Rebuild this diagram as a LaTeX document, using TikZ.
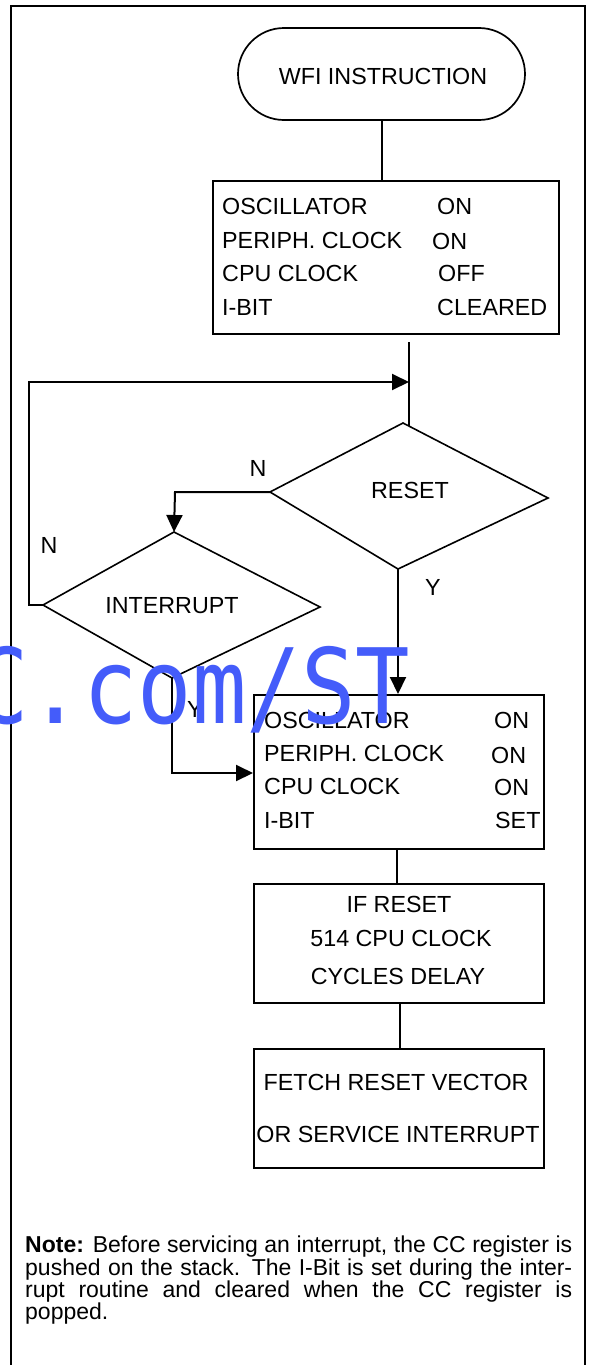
\documentclass[tikz,border=0pt]{standalone}
\usepackage{fontspec}
\setmainfont{Liberation Sans}
\newfontfamily\wmfont[FakeStretch=0.87]{DejaVu Sans Mono}
\usetikzlibrary{shapes.misc, arrows.meta}
\definecolor{wmblue}{RGB}{68,92,250}
\begin{document}
\begin{tikzpicture}[x=1pt, y=-1pt,
  box/.style={draw, line width=2pt, inner sep=0pt, anchor=north west},
  lbl/.style={anchor=base west, inner sep=0pt, font=\fontsize{23.3}{27}\selectfont},
  ctr/.style={anchor=base, inner sep=0pt, font=\fontsize{23.3}{27}\selectfont},
  notetxt/.style={anchor=base west, inner sep=0pt, font=\fontsize{23}{26}\selectfont},
  conn/.style={line width=2pt},
  arr/.style={conn, -{Triangle[length=17pt, width=16pt]}},
  dia/.style={line width=1.6pt, line join=miter},
  ]
\useasboundingbox (0,0) rectangle (590,1365);
\fill[white] (0,0) rectangle (590,1365);
% outer frame
\draw[line width=2.4pt] (11,1370) -- (11,6) -- (585,6) -- (585,1370);

% start terminal
\node[draw, rounded rectangle, line width=1.7pt, minimum width=287pt, minimum height=92pt, inner sep=0pt] (wfi) at (381.5,74) {};
\node[ctr] (wfit) at (383,84) {WFI INSTRUCTION};

% box 1
\node[box, minimum width=346pt, minimum height=153pt] (b1) at (212,180) {};
\node[lbl] (b1a) at (222,214) {OSCILLATOR};
\node[lbl] (b1b) at (222,248) {PERIPH. CLOCK};
\node[lbl] (b1c) at (222,281) {CPU CLOCK};
\node[lbl] (b1d) at (222,315) {I-BIT};
\node[lbl] (b1e) at (437,214) {ON};
\node[lbl] (b1f) at (432,249) {ON};
\node[lbl] (b1g) at (438,281) {OFF};
\node[lbl] (b1h) at (437,315) {CLEARED};

% RESET diamond
\coordinate (rT) at (403,423);
\coordinate (rL) at (270,492);
\coordinate (rR) at (548,498);
\coordinate (rB) at (398,569);
\draw[dia] (rT) -- (rR) -- (rB) -- (rL) -- cycle;
\node[ctr] (rtxt) at (410,498) {RESET};
\coordinate (rIn) at (409,426);
\coordinate (j1) at (409,382);

% INTERRUPT diamond
\coordinate (iT) at (174,532);
\coordinate (iL) at (43,605);
\coordinate (iR) at (320,607);
\coordinate (iB) at (172,678);
\draw[dia] (iT) -- (iR) -- (iB) -- (iL) -- cycle;
\node[ctr] (itxt) at (172,613) {INTERRUPT};

% box 2
\node[box, minimum width=290pt, minimum height=154pt] (b2) at (253,694) {};
\node[lbl] (b2a) at (264,728) {OSCILLATOR};
\node[lbl] (b2b) at (264,761) {PERIPH. CLOCK};
\node[lbl] (b2c) at (264,794) {CPU CLOCK};
\node[lbl] (b2d) at (264,828) {I-BIT};
\node[lbl] (b2e) at (494,728) {ON};
\node[lbl] (b2f) at (491,763) {ON};
\node[lbl] (b2g) at (494,795) {ON};
\node[lbl] (b2h) at (495,828) {SET};

% box 3
\node[box, minimum width=290pt, minimum height=119pt] (b3) at (253,883) {};
\node[ctr] (b3a) at (399,912) {IF RESET};
\node[ctr] (b3b) at (401,946) {514 CPU CLOCK};
\node[ctr] (b3c) at (398,984) {CYCLES DELAY};

% box 4
\node[box, minimum width=290pt, minimum height=119pt] (b4) at (253,1048) {};
\node[ctr] (b4a) at (396,1090) {FETCH RESET VECTOR};
\node[ctr] (b4b) at (398,1142) {OR SERVICE INTERRUPT};

% connectors
\draw[conn] (wfi.south) -- (wfi.south |- b1.north);
\draw[conn, shorten <=7pt] (b1.south -| rIn) -- (rIn);
\draw[arr] (iL) -- (29,605) -- (29,382) -- (j1);
\draw[arr] (rL) -- (175,492) -- (iT);
\draw[arr] (rB) -- (rB |- b2.north);
\draw[arr] (iB) -- (172,773) -- (b2.west |- 0,773);
\draw[conn] (b2.south -| 397,0) -- (b3.north -| 397,0);
\draw[conn] (b3.south -| 400,0) -- (b4.north -| 400,0);

% branch labels
\node[ctr] (n1) at (258,476) {N};
\node[ctr] (y1) at (433,595) {Y};
\node[ctr] (n2) at (49,553) {N};
\node[ctr] (y2) at (195,717) {Y};

% note
\node[notetxt] (nl1) at (25,1252) {\makebox[547pt][s]{\textbf{Note:} Before servicing an interrupt, the CC register is}};
\node[notetxt] (nl2) at (25,1275) {\makebox[547pt][s]{pushed on the stack. The I-Bit is set during the inter-}};
\node[notetxt] (nl3) at (25,1297) {\makebox[547pt][s]{rupt routine and cleared when the CC register is}};
\node[notetxt] (nl4) at (25,1319) {popped.};

% watermark
\node[anchor=base west, inner sep=0pt, text=wmblue, font=\wmfont\fontsize{104}{110}\selectfont] (wm) at (-26,723) {C.com/ST};
\end{tikzpicture}
\end{document}
